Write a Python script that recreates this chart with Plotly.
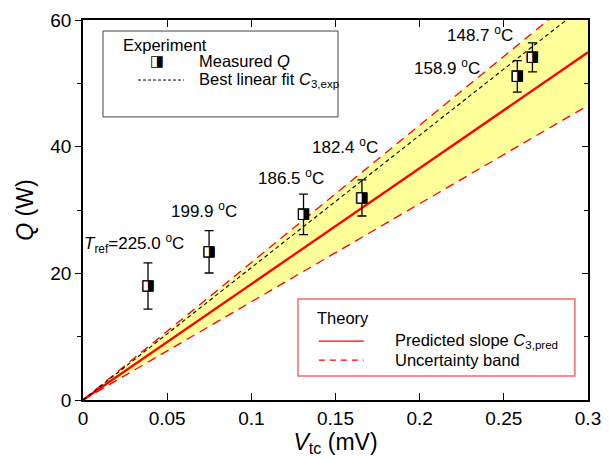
import plotly.graph_objects as go

# ---- data ----
V_tc = [0.0386, 0.0749, 0.131, 0.1657, 0.258, 0.267]          # mV
Q_meas = [18.0, 23.4, 29.3, 31.9, 51.1, 54.1]                # W
Q_err = [3.65, 3.35, 3.2, 2.85, 2.5, 2.3]                    # W
T_labels = ["225.0", "199.9", "186.5", "182.4", "158.9", "148.7"]

line_x = [0.0, 0.3]
fit_Q = [0.0, 62.7]        # best linear fit C3,exp
pred_Q = [0.0, 54.9]       # predicted slope C3,pred
band_lo_Q = [0.0, 46.5]    # uncertainty band lower
band_hi_Q = [0.0, 65.1]    # uncertainty band upper

FONT = "Liberation Sans, Arial, sans-serif"
RED = "#FF0000"

fig = go.Figure()

# uncertainty band fill
fig.add_trace(go.Scatter(x=line_x, y=band_lo_Q, mode="lines", line=dict(width=0),
                         showlegend=False, hoverinfo="skip"))
fig.add_trace(go.Scatter(x=line_x, y=band_hi_Q, mode="lines", line=dict(width=0),
                         fill="tonexty", fillcolor="#FFFF99", showlegend=False, hoverinfo="skip"))
# band edges
for yy in (band_lo_Q, band_hi_Q):
    fig.add_trace(go.Scatter(x=line_x, y=yy, mode="lines",
                             line=dict(color=RED, width=1.3, dash="9px,6px"), showlegend=False))
# predicted slope
fig.add_trace(go.Scatter(x=line_x, y=pred_Q, mode="lines",
                         line=dict(color=RED, width=2.3), showlegend=False))
# best fit
fig.add_trace(go.Scatter(x=line_x, y=fit_Q, mode="lines",
                         line=dict(color="black", width=1.1, dash="4px,3px"), showlegend=False))
# error bars with white square base
fig.add_trace(go.Scatter(x=V_tc, y=Q_meas, mode="markers",
                         marker=dict(symbol="square", size=10, color="white",
                                     line=dict(color="black", width=1.0)),
                         error_y=dict(type="data", array=Q_err, color="black", thickness=1.3, width=4.5),
                         showlegend=False))
# half-filled marker glyph
fig.add_trace(go.Scatter(x=V_tc, y=Q_meas, mode="text", text=["◨"] * len(V_tc),
                         textposition="middle center",
                         textfont=dict(family="DejaVu Sans", size=15, color="black"),
                         showlegend=False, cliponaxis=False))

# temperature labels
shifts = [(-14, 43), (-5, 42), (-13, 37), (-17, 52), (-70, 9), (-52, 23)]
for i, (xv, yv, t) in enumerate(zip(V_tc, Q_meas, T_labels)):
    txt = f"{t} <sup>o</sup>C"
    if i == 0:
        txt = "<i>T</i><sub>ref</sub>=" + txt
    fig.add_annotation(x=xv, y=yv, text=txt, showarrow=False,
                       xshift=shifts[i][0], yshift=shifts[i][1],
                       font=dict(family=FONT, size=17, color="black"))

# ---- legend boxes (paper coords) ----
LF = dict(family=FONT, size=16.5, color="black")
fig.add_shape(type="rect", xref="paper", yref="paper", x0=0.0396, x1=0.505, y0=0.745, y1=0.971,
              line=dict(color="#444444", width=1), fillcolor="white", layer="above")
fig.add_annotation(xref="paper", yref="paper", x=0.0752, y=0.934, xanchor="left", yanchor="middle",
                   text="Experiment", showarrow=False, font=LF)
fig.add_annotation(xref="paper", yref="paper", x=0.1465, y=0.892, xanchor="center", yanchor="middle",
                   text="◨", showarrow=False, font=dict(family="DejaVu Sans", size=15, color="black"))
fig.add_annotation(xref="paper", yref="paper", x=0.2257, y=0.892, xanchor="left", yanchor="middle",
                   text="Measured <i>Q</i>", showarrow=False, font=LF)
fig.add_shape(type="line", xref="paper", yref="paper", x0=0.109, x1=0.2, y0=0.842, y1=0.842,
              line=dict(color="black", width=1, dash="3px,2px"), layer="above")
fig.add_annotation(xref="paper", yref="paper", x=0.2257, y=0.842, xanchor="left", yanchor="middle",
                   text="Best linear fit <i>C</i><sub>3,exp</sub>", showarrow=False, font=LF)

fig.add_shape(type="rect", xref="paper", yref="paper", x0=0.4257, x1=0.974, y0=0.063, y1=0.266,
              line=dict(color="#F26B6B", width=1.5), fillcolor="white", layer="above")
fig.add_annotation(xref="paper", yref="paper", x=0.459, y=0.216, xanchor="left", yanchor="middle",
                   text="Theory", showarrow=False, font=LF)
fig.add_shape(type="line", xref="paper", yref="paper", x0=0.467, x1=0.556, y0=0.155, y1=0.155,
              line=dict(color=RED, width=1.3), layer="above")
fig.add_annotation(xref="paper", yref="paper", x=0.614, y=0.155, xanchor="left", yanchor="middle",
                   text="Predicted slope <i>C</i><sub>3,pred</sub>", showarrow=False, font=LF)
fig.add_shape(type="line", xref="paper", yref="paper", x0=0.467, x1=0.556, y0=0.105, y1=0.105,
              line=dict(color=RED, width=1.3, dash="6px,5px"), layer="above")
fig.add_annotation(xref="paper", yref="paper", x=0.614, y=0.105, xanchor="left", yanchor="middle",
                   text="Uncertainty band", showarrow=False, font=LF)

TF = dict(family=FONT, size=19, color="black")
# page body has an 8px margin: size the figure so the plot area lands at the reference spot
fig.update_layout(
    width=601, height=452,
    margin=dict(l=75, r=21, t=12, b=60, autoexpand=False),
    plot_bgcolor="white", paper_bgcolor="white",
    showlegend=False,
    font=dict(family=FONT, color="black"),
    xaxis=dict(range=[0, 0.3], tickvals=[0, 0.05, 0.1, 0.15, 0.2, 0.25, 0.3],
               ticktext=["0", "0.05", "0.1", "0.15", "0.2", "0.25", "0.3"],
               ticks="inside", ticklen=7, tickwidth=1.3, tickcolor="black",
               showline=True, linecolor="black", linewidth=1.5, mirror="ticks",
               showgrid=False, zeroline=False, tickfont=TF, automargin=False,
               title=dict(text="<i>V</i><sub>tc</sub> (mV)",
                          font=dict(family=FONT, size=23, color="black"), standoff=2)),
    yaxis=dict(range=[0, 60], tickvals=[0, 20, 40, 60],
               ticks="outside", ticklen=6, tickwidth=1.3, tickcolor="black",
               minor=dict(tickvals=[10, 30, 50], ticks="outside", ticklen=4, tickwidth=1.3, tickcolor="black"),
               showline=True, linecolor="black", linewidth=1.5,
               showgrid=False, zeroline=False, tickfont=TF, automargin=False,
               title=dict(text="<i>Q</i> (W)",
                          font=dict(family=FONT, size=23, color="black"), standoff=10)),
    yaxis2=dict(range=[0, 60], overlaying="y", side="right", tickvals=[0, 20, 40, 60],
                ticks="inside", ticklen=6, tickwidth=1.3, tickcolor="black",
                minor=dict(tickvals=[10, 30, 50], ticks="inside", ticklen=4, tickwidth=1.3, tickcolor="black"),
                showticklabels=False, showline=True, linecolor="black", linewidth=1.5,
                showgrid=False, zeroline=False, automargin=False),
)
# dummy trace to activate yaxis2
fig.add_trace(go.Scatter(x=[0], y=[0], yaxis="y2", mode="markers", marker=dict(opacity=0),
                         showlegend=False, hoverinfo="skip"))

fig.write_html("out.html")
